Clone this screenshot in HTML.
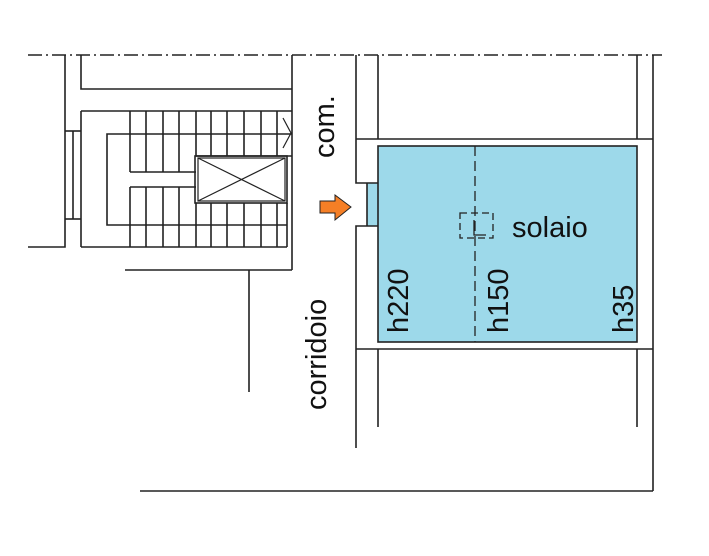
<!DOCTYPE html>
<html><head><style>body{margin:0;background:#fff}svg{display:block}</style></head>
<body>
<svg width="709" height="556" xmlns="http://www.w3.org/2000/svg" font-family="Liberation Sans, sans-serif">
<rect width="709" height="556" fill="#fff"/>
<g stroke="#222" stroke-width="1.6" fill="none">
<line x1="28" y1="55" x2="662" y2="55" stroke-dasharray="14,4,2,4" stroke-width="1.4"/>
<polyline points="65,55 65,247 28,247"/>
<polyline points="81,55 81,89 292,89"/>
<line x1="292" y1="55" x2="292" y2="270"/>
<line x1="65" y1="131" x2="81" y2="131"/><line x1="65" y1="219" x2="81" y2="219"/>
<line x1="73" y1="131" x2="73" y2="219"/>
<line x1="81" y1="111" x2="81" y2="247"/>
<line x1="81" y1="111" x2="292" y2="111"/>
<line x1="81" y1="247" x2="287" y2="247"/>
<polyline points="130,134 107,134 107,225 130,225"/>
<line x1="130" y1="134" x2="292" y2="134"/>
<line x1="130" y1="225" x2="287" y2="225"/>
<line x1="196" y1="156" x2="292" y2="156"/>
<line x1="130" y1="172" x2="196" y2="172"/><line x1="130" y1="187" x2="196" y2="187"/>
<g>
<line x1="130" y1="111" x2="130" y2="172"/><line x1="146" y1="111" x2="146" y2="172"/><line x1="163" y1="111" x2="163" y2="172"/><line x1="179" y1="111" x2="179" y2="172"/>
<line x1="130" y1="187" x2="130" y2="247"/><line x1="146" y1="187" x2="146" y2="247"/><line x1="163" y1="187" x2="163" y2="247"/><line x1="179" y1="187" x2="179" y2="247"/>
<line x1="196" y1="111" x2="196" y2="156"/><line x1="211" y1="111" x2="211" y2="156"/><line x1="227" y1="111" x2="227" y2="156"/><line x1="244" y1="111" x2="244" y2="156"/><line x1="261" y1="111" x2="261" y2="156"/><line x1="277" y1="111" x2="277" y2="156"/>
<line x1="196" y1="203" x2="196" y2="247"/><line x1="211" y1="203" x2="211" y2="247"/><line x1="227" y1="203" x2="227" y2="247"/><line x1="244" y1="203" x2="244" y2="247"/><line x1="261" y1="203" x2="261" y2="247"/><line x1="277" y1="203" x2="277" y2="247"/><line x1="287" y1="203" x2="287" y2="247"/>
</g>
<polyline points="283,118 291,133 283,148" stroke-width="1.2"/>
<rect x="195" y="156" width="92" height="47"/>
<rect x="198" y="158" width="87" height="43" stroke-width="1.2"/>
<line x1="198" y1="158" x2="285" y2="201" stroke-width="1.2"/><line x1="198" y1="201" x2="285" y2="158" stroke-width="1.2"/>
<line x1="125" y1="270" x2="292" y2="270"/>
<line x1="249" y1="270" x2="249" y2="392"/>
</g>
<path d="M378,146 H637 V342 H378 V226 H367 V183 H378 Z" fill="#9dd9ea"/>
<g stroke="#222" stroke-width="1.6" fill="none">
<rect x="378" y="146" width="259" height="196"/>
<line x1="367" y1="183" x2="367" y2="226"/>
<polyline points="356,55 356,183 378,183"/>
<polyline points="356,448 356,226 378,226"/>
<line x1="378" y1="55" x2="378" y2="139"/>
<line x1="356" y1="139" x2="653" y2="139"/>
<line x1="637" y1="55" x2="637" y2="139"/>
<line x1="653" y1="55" x2="653" y2="491"/>
<line x1="356" y1="349" x2="653" y2="349"/>
<line x1="378" y1="349" x2="378" y2="427"/>
<line x1="637" y1="349" x2="637" y2="427"/>
<line x1="140" y1="491" x2="653" y2="491"/>
<line x1="475" y1="146" x2="475" y2="342" stroke-dasharray="10,5" stroke-width="1.3"/>
<rect x="460" y="213" width="33" height="25" stroke-dasharray="7,4" stroke-width="1.3"/>
<polyline points="474,220 474,235 486,235" stroke-width="1.3"/>
</g>
<path d="M320,201 H335 V195 L351,207 L335,220 V213 H320 Z" fill="#f57f26" stroke="#222" stroke-width="1"/>
<g font-size="29" fill="#111">
<text x="512" y="237">solaio</text>
<text transform="translate(334,158) rotate(-90)">com.</text>
<text transform="translate(326,410) rotate(-90)">corridoio</text>
<text transform="translate(408,333) rotate(-90)">h220</text>
<text transform="translate(508,333) rotate(-90)">h150</text>
<text transform="translate(633,333) rotate(-90)">h35</text>
</g>
</svg>
</body></html>
